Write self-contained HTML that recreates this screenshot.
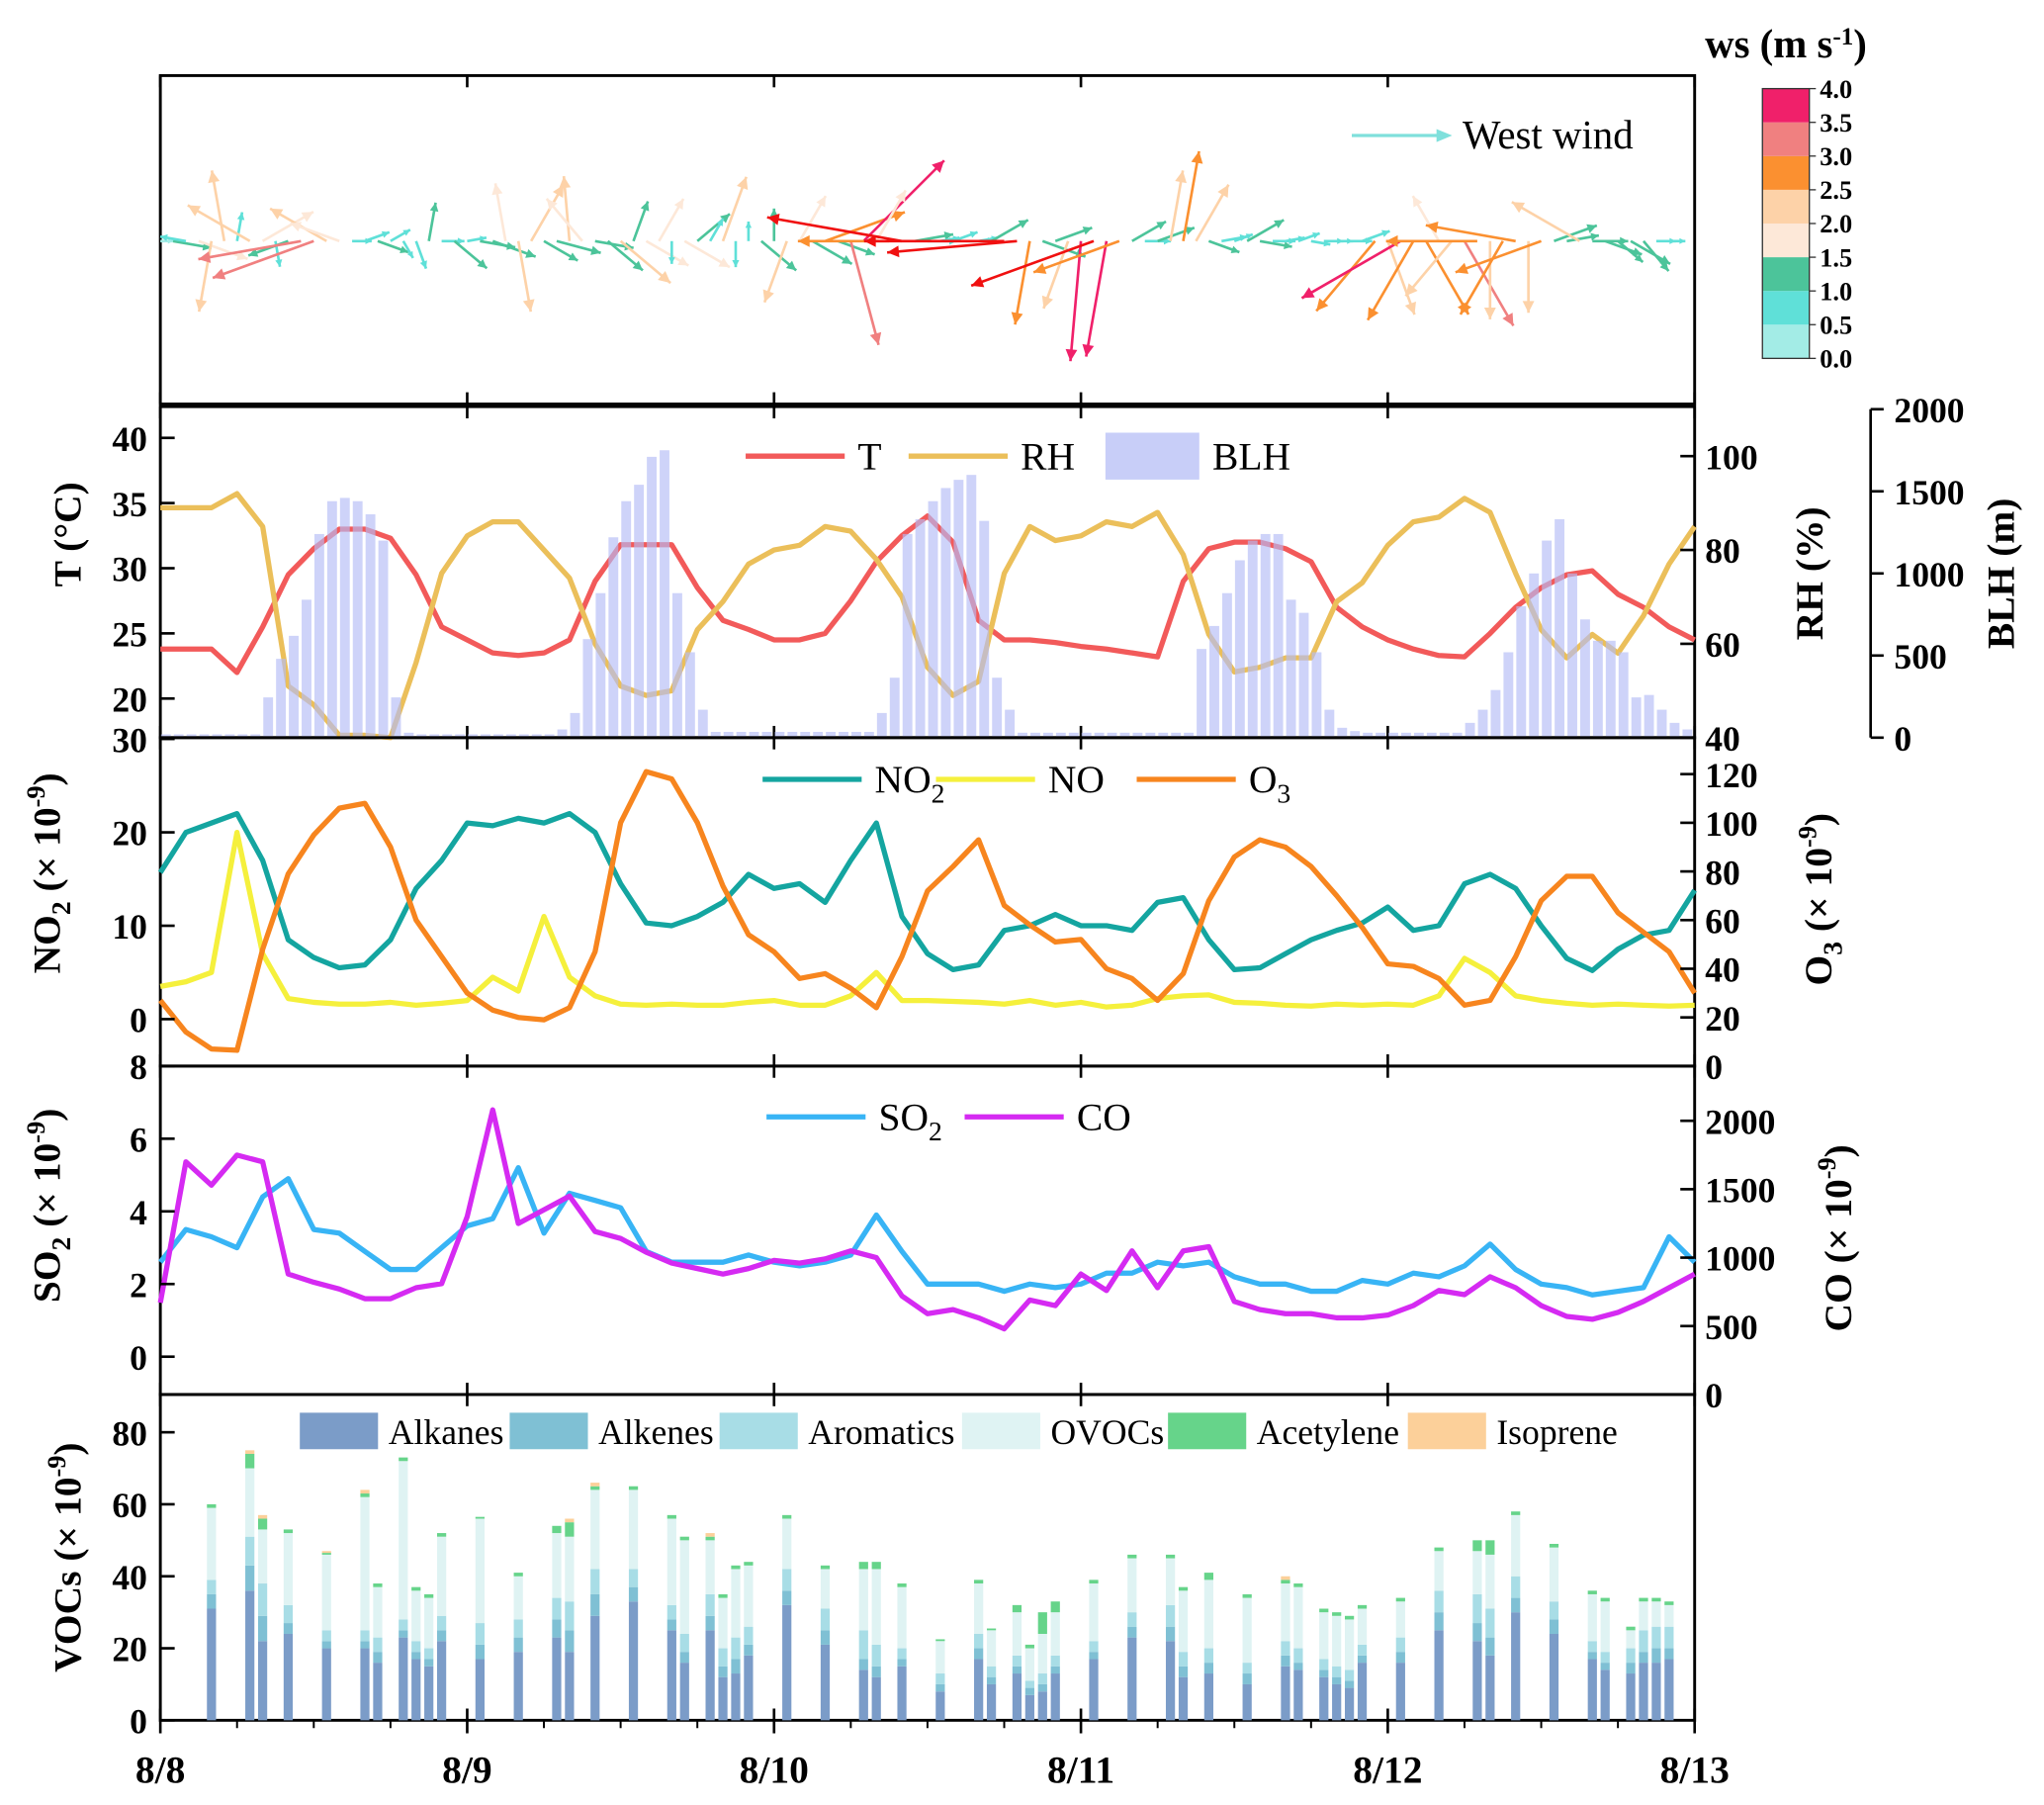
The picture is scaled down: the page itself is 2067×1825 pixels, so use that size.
<!DOCTYPE html>
<html><head><meta charset="utf-8">
<style>
html,body{margin:0;padding:0;background:#fff;}
svg{display:block;font-family:"Liberation Serif",serif;}
.t{font-weight:bold;font-size:27px;}
.tt{font-weight:bold;font-size:30px;}
</style></head>
<body>
<svg id="chart" width="2067" height="1825" viewBox="0 0 1568 1385" preserveAspectRatio="none" xmlns="http://www.w3.org/2000/svg">
<g id="g"></g>
</svg>
<script>
// ---------- data ----------
const hours2 = Array.from({length:61},(_,i)=>i*2);
const tempT = [23.8,23.8,23.8,22,25.5,29.5,31.5,33,33,32.3,29.5,25.5,24.5,23.5,23.3,23.5,24.5,29,31.8,31.8,31.8,28.5,26,25.3,24.5,24.5,25,27.5,30.5,32.5,34,32,26,24.5,24.5,24.3,24,23.8,23.5,23.2,29,31.5,32,32,31.5,30.5,27,25.5,24.5,23.8,23.3,23.2,25,27,28.5,29.5,29.8,28,27,25.5,24.5];
const rhRH = [89,89,89,92,85,51,47,40.5,40.5,40,56,75,83,86,86,80,74,60,51,49,50,63,69,77,80,81,85,84,78,70,55,49,52,75,85,82,83,86,85,88,79,62,54,55,57,57,69,73,81,86,87,91,88,75,63,57,62,58,66,77,85];
const blhBLH = [20,20,20,20,20,20,20,20,
 245,480,620,840,1240,1440,1460,1440,1360,1200,245,30,
 20,20,20,20,20,20,20,20,20,20,20,
 50,150,600,880,1220,1440,1540,1710,1750,880,520,170,
 35,35,35,35,35,35,35,35,35,35,35,35,35,
 150,365,1240,1330,1440,1520,1570,1600,1320,365,170,
 30,30,30,30,30,30,30,30,30,30,30,30,30,30,
 540,680,880,1080,1200,1240,1240,840,760,520,170,60,40,
 30,30,30,30,30,30,30,30,
 90,170,290,520,800,1000,1200,1330,1000,720,590,590,520,245,260,170,90,50];
const no2NO2 = [15.7,20,21,22,17,8.5,6.6,5.5,5.8,8.5,14,17,21,20.7,21.5,21,22,20,14.5,10.3,10,11,12.5,15.5,14,14.5,12.5,17,21,11,7,5.3,5.8,9.5,10,11.2,10,10,9.5,12.5,13,8.5,5.3,5.5,7,8.5,9.5,10.3,12,9.5,10,14.5,15.5,14,10,6.5,5.2,7.5,9,9.5,13.8];
const noNO = [3.5,4,5,20,7,2.2,1.8,1.6,1.6,1.8,1.5,1.7,2,4.5,3,11,4.5,2.5,1.6,1.5,1.6,1.5,1.5,1.8,2,1.5,1.5,2.5,5,2,2,1.9,1.8,1.6,2,1.5,1.8,1.3,1.5,2.2,2.5,2.6,1.8,1.7,1.5,1.4,1.6,1.5,1.6,1.5,2.5,6.5,5,2.5,2,1.7,1.5,1.6,1.5,1.4,1.5];
const o3O3 = [27,14,7,6.5,48,79,95,106,108,90,60,45,30,23,20,19,24,47,100,121,118,100,74,54,47,36,38,32,24,45,72,82,93,66,58,51,52,40,36,27,38,68,86,93,90,82,70,57,42,41,36,25,27,45,68,78,78,63,55,47,30];
const so2SO2 = [2.6,3.5,3.3,3,4.4,4.9,3.5,3.4,2.9,2.4,2.4,3,3.6,3.8,5.2,3.4,4.5,4.3,4.1,2.9,2.6,2.6,2.6,2.8,2.6,2.5,2.6,2.8,3.9,2.9,2.0,2.0,2.0,1.8,2.0,1.9,2.0,2.3,2.3,2.6,2.5,2.6,2.2,2.0,2.0,1.8,1.8,2.1,2.0,2.3,2.2,2.5,3.1,2.4,2.0,1.9,1.7,1.8,1.9,3.3,2.6];
const coCO = [670,1700,1530,1750,1700,880,820,770,700,700,780,810,1300,2080,1250,1350,1450,1190,1140,1040,960,920,880,920,980,960,990,1050,1000,720,590,620,560,480,690,650,880,760,1050,780,1050,1080,680,620,590,590,560,560,580,650,760,730,860,780,650,570,550,600,680,780,880];
const vocHours = [4,7,8,10,13,16,17,19,20,21,22,25,28,31,32,34,37,40,41,43,44,45,46,49,52,55,56,58,61,64,65,67,68,69,70,73,76,79,80,82,85,88,89,91,92,93,94,97,100,103,104,106,109,112,113,115,116,117,118];
const vocAlkanes = [31,36,22,24,20,20,16,23,17,15,22,17,19,23,19,29,33,25,16,25,12,13,18,32,21,14,12,15,8,17,10,13,7,8,13,17,23,22,12,13,10,15,14,12,10,9,16,16,25,22,18,30,24,17,14,13,16,16,17];
const vocAlkenes = [4,7,7,3,2,2,3,2,2,2,3,4,4,5,6,6,4,3,3,4,3,4,3,4,4,3,3,2,2,3,2,2,2,2,2,2,3,4,3,3,3,3,2,2,2,2,2,3,5,5,5,4,4,2,2,3,3,4,3];
const vocAromatics = [4,8,9,5,3,3,4,3,3,3,4,6,5,6,8,7,5,4,5,6,5,6,5,6,6,8,6,3,3,4,3,3,2,3,3,3,4,6,4,4,3,4,4,3,3,3,3,4,6,8,8,6,5,3,3,4,6,6,6];
const vocOVOCs = [20,19,15,20,21,37,14,44,14,14,22,29,12,18,18,22,22,24,26,15,14,19,17,14,11,17,21,17,9,14,10,12,9,11,12,16,15,13,17,19,18,16,17,13,14,14,10,10,11,12,15,17,15,13,14,5,8,7,6];
const vocAcetylene = [1,4,3,1,0.5,1,1,1,1,1,1,0.5,1,2,4,1,1,1,1,1,1,1,1,1,1,2,2,1,0.5,1,0.5,2,1,6,3,1,1,1,1,2,1,1,1,1,1,1,1,1,1,3,4,1,1,1,1,1,1,1,1];
const vocIsoprene = [0,1,1,0,0.5,1,0,0,0,0,0,0,0,0,1,1,0,0,0,1,0,0,0,0,0,0,0,0,0,0,0,0,0,0,0,0,0,0,0,0,0,1,0,0,0,0,0,0,0,0,0,0,0,0,0,0,0,0,0];
const windHour = Array.from({length:119},(_,i)=>i);
const windSpeed = [0.4,1.2,0.8,1.6,2.2,2.2,0.9,2.2,1.8,0.8,1.3,3.2,3.3,2.0,1.6,0.6,0.8,1.0,0.7,0.6,0.9,1.2,0.7,1.3,0.6,1.1,1.4,1.8,2.2,2.0,1.2,1.4,2.0,1.7,1.2,1.4,2.0,1.3,1.5,1.5,0.7,1.6,1.3,0.8,2.1,0.8,0.6,1.4,1.0,2.0,1.6,1.4,2.6,1.2,3.3,3.5,1.8,2.8,4.2,1.2,0.9,0.6,0.8,0.9,0.6,1.3,4.3,4.0,2.6,1.4,1.2,2.2,3.7,4.0,3.6,2.8,1.2,0.8,1.2,2.2,2.8,2.0,1.0,0.8,0.6,1.3,1.0,0.7,0.6,0.7,0.6,0.6,0.5,0.7,0.9,2.8,2.4,3.5,2.8,2.6,1.6,2.2,3.0,2.8,2.4,2.6,2.8,2.2,2.8,1.4,1.0,2.4,1.1,1.2,1.0,1.4,1.2,0.6,0.5];
const windDir = [0,-10,170,-20,-100,100,80,150,30,-80,200,190,200,150,160,0,20,-20,30,-60,-70,80,0,-40,10,-10,-20,100,-80,60,-30,-15,95,130,-10,-40,-40,70,-30,60,-90,-30,40,60,70,-90,90,-40,90,-110,60,-30,20,-20,-75,45,60,180,170,10,0,10,20,0,10,30,180,185,-100,-20,20,-110,-95,200,-100,200,30,0,20,80,80,60,-20,10,20,30,-10,0,10,20,-10,0,0,0,20,-130,-70,210,-120,-60,120,-130,-60,180,-90,-120,170,-90,200,20,10,150,0,-20,-40,-30,-50,0,0];
const tTicks=[20,25,30,35,40], rhTicks=[40,60,80,100], blhTicks=[0,500,1000,1500,2000];
const no2Ticks=[0,10,20,30], o3Ticks=[0,20,40,60,80,100,120];
const so2Ticks=[0,2,4,6,8], coTicks=[0,500,1000,1500,2000];
const vocTicks=[0,20,40,60,80], dayLabels=['8/8','8/9','8/10','8/11','8/12','8/13'];
const wsLabels=['0.0','0.5','1.0','1.5','2.0','2.5','3.0','3.5','4.0'];

// ---------- helpers ----------
const NS='http://www.w3.org/2000/svg', G=document.getElementById('g');
function mk(tag,attrs,parent){const e=document.createElementNS(NS,tag);for(const k in attrs)e.setAttribute(k,attrs[k]);(parent||G).appendChild(e);return e;}
function txt(x,y,s,cls,anchor,parent,rot){const e=mk('text',{x:x,y:y,'class':cls,'text-anchor':anchor||'middle'},parent);if(rot)e.setAttribute('transform','rotate(-90 '+x+' '+y+')');e.innerHTML=s;return e;}
const X0=123,X1=1300;
const xH=h=>X0+h*(X1-X0)/120;
function lin(d0,d1,p0,p1){return v=>p0+(v-d0)*(p1-p0)/(d1-d0);}
const yT=lin(20,40,536,336), yRH=lin(40,100,566,350), yBLH=lin(0,2000,566,314);
const yNO2=lin(0,30,782,567), yO3=lin(0,120,818,594);
const ySO2=lin(0,8,1041,818), yCO=lin(0,2000,1070,860);
const yV=lin(0,80,1320,1099);

function frame(y0,y1,name){
  const r=mk('rect',{x:X0,y:y0,width:X1-X0,height:y1-y0,fill:'none',stroke:'#000','stroke-width':2.2});
  
  for(let d=0;d<=5;d++){const x=xH(d*24);
    mk('line',{x1:x,x2:x,y1:y0,y2:y0+9,stroke:'#000','stroke-width':2});
    mk('line',{x1:x,x2:x,y1:y1,y2:y1-9,stroke:'#000','stroke-width':2});}
}
function leftAxis(ticks,f,name){const g=mk('g',{});
  ticks.forEach(v=>{const y=f(v);mk('line',{x1:X0,x2:X0+11,y1:y,y2:y,stroke:'#000','stroke-width':2},g);txt(X0-10,y+10,v,'t','end',g);});}
function rightAxis(ticks,f,name,xa){const g=mk('g',{});
  const ax=xa||X1; ticks.forEach(v=>{const y=f(v);
    if(xa){mk('line',{x1:ax,x2:ax+10,y1:y,y2:y,stroke:'#000','stroke-width':2},g);}
    else mk('line',{x1:ax,x2:ax-11,y1:y,y2:y,stroke:'#000','stroke-width':2},g);
    txt(ax+(xa?18:8),y+10,v,'t','start',g);});}
function line(vals,f,color,name,w){const pts=vals.map((v,i)=>xH(hours2[i]).toFixed(1)+','+f(v).toFixed(1)).join(' ');
  const p=mk('polyline',{points:pts,fill:'none',stroke:color,'stroke-width':w||4,'stroke-linejoin':'round'});
  return p;}
function legLine(x,y,color,label,name){const g=mk('g',{});
  mk('line',{x1:x,x2:x+76,y1:y,y2:y,stroke:color,'stroke-width':4},g);const t=txt(x+86,y+10,label,'','start',g);t.setAttribute('style','font-size:30px');return g;}

// ---------- panel 1: wind ----------
frame(58,310,'wind-panel');
const wsColors=['#a3ece6','#5fe0d8','#4cc49a','#fde8d8','#fdd2a8','#fb9030','#f08080','#f0206a'];
function wcol(s){if(s>=4)return '#f01010';return wsColors[Math.min(7,Math.floor(s/0.5))];}
const arrG=mk('g',{});
windHour.forEach((h,i)=>{const s=windSpeed[i],a=windDir[i]*Math.PI/180,L=s*25;
  const x1=xH(h),y1=185,x2=x1+L*Math.cos(a),y2=y1-L*Math.sin(a),c=wcol(s);
  const hx=Math.cos(a),hy=-Math.sin(a),hs=Math.min(9,3+L*0.12);
  const g=mk('g',{},arrG);
  
  
  mk('line',{x1:x1,y1:y1,x2:x2,y2:y2,stroke:c,'stroke-width':2},g);
  mk('polygon',{points:`${x2},${y2} ${x2-hs*hx-hs*0.5*hy},${y2-hs*hy+hs*0.5*hx} ${x2-hs*hx+hs*0.5*hy},${y2-hs*hy-hs*0.5*hx}`,fill:c},g);
});
{const g=mk('g',{});
 mk('line',{x1:1037,x2:1104,y1:104,y2:104,stroke:'#7fe0dc','stroke-width':2.5},g);
 mk('polygon',{points:'1114,104 1102,99 1102,109',fill:'#7fe0dc'},g);
 const t=txt(1122,114,'West wind','','start',g);t.setAttribute('style','font-size:31px');}
{const g=mk('g',{});
 const segH=(275-68)/8;
 wsColors.forEach((c,i)=>{mk('rect',{x:1352,y:275-(i+1)*segH,width:36,height:segH,fill:c},g);});
 mk('rect',{x:1352,y:68,width:36,height:207,fill:'none',stroke:'#333','stroke-width':1},g);
 wsLabels.forEach((l,i)=>{const y=275-i*segH;mk('line',{x1:1388,x2:1393,y1:y,y2:y,stroke:'#333'},g);const t=txt(1396,y+7,l,'','start',g);t.setAttribute('style','font-size:20px;font-weight:bold');});
 const t=txt(1370,44,'ws (m s<tspan dy="-10" font-size="19">-1</tspan><tspan dy="10">)</tspan>','','middle',g);t.setAttribute('style','font-size:31px;font-weight:bold');}

// ---------- panel 2: T, RH, BLH ----------
frame(312,566,'meteorology-panel');
const blhG=mk('g',{});
line(tempT,yT,'#f25a5a','temperature-line');
line(rhRH,yRH,'#ebbf5a','rh-line');
blhBLH.forEach((v,i)=>{const x=xH(i)+0.5,y=yBLH(v);
  const r=mk('rect',{x:x,y:y,width:7.5,height:566-y,fill:'#b4bcf6','fill-opacity':0.65},blhG);
  
  });
G.appendChild(blhG);
leftAxis(tTicks,yT,'t-axis');
rightAxis(rhTicks,yRH,'rh-axis');
mk('line',{x1:1435,x2:1435,y1:314,y2:566,stroke:'#000','stroke-width':2});
rightAxis(blhTicks,yBLH,'blh-axis',1435);
legLine(572,350,'#f25a5a','T','legend-t');
legLine(697,350,'#ebbf5a','RH','legend-rh');
{const g=mk('g',{});
 mk('rect',{x:848,y:332,width:72,height:36,fill:'#c8cef8'},g);const t=txt(930,360,'BLH','','start',g);t.setAttribute('style','font-size:30px');}
txt(62,410,'T (°C)','tt','middle',null,true);
txt(1398,440,'RH (%)','tt','middle',null,true);
txt(1545,440,'BLH (m)','tt','middle',null,true);

// ---------- panel 3: NO2, NO, O3 ----------
frame(566,818,'nitrogen-ozone-panel');
line(no2NO2,yNO2,'#14a5a0','no2-line');
line(noNO,yNO2,'#f5f03c','no-line');
line(o3O3,yO3,'#f7851e','o3-line');
leftAxis(no2Ticks,yNO2,'no2-axis');
rightAxis(o3Ticks,yO3,'o3-axis');
legLine(585,598,'#14a5a0','NO<tspan dy="8" font-size="21">2</tspan>','legend-no2');
legLine(718,598,'#f5f03c','NO','legend-no');
legLine(872,598,'#f7851e','O<tspan dy="8" font-size="21">3</tspan>','legend-o3');
txt(46,670,'NO<tspan dy="8" font-size="21">2</tspan><tspan dy="-8"> (× 10</tspan><tspan dy="-12" font-size="20">-9</tspan><tspan dy="12">)</tspan>','tt','middle',null,true);
txt(1405,690,'O<tspan dy="8" font-size="21">3</tspan><tspan dy="-8"> (× 10</tspan><tspan dy="-12" font-size="20">-9</tspan><tspan dy="12">)</tspan>','tt','middle',null,true);

// ---------- panel 4: SO2, CO ----------
frame(818,1070,'so2-co-panel');
line(so2SO2,ySO2,'#38b4f5','so2-line');
line(coCO,yCO,'#d52af2','co-line');
leftAxis(so2Ticks,ySO2,'so2-axis');
rightAxis(coTicks,yCO,'co-axis');
legLine(588,857,'#38b4f5','SO<tspan dy="8" font-size="21">2</tspan>','legend-so2');
legLine(740,857,'#d52af2','CO','legend-co');
txt(46,925,'SO<tspan dy="8" font-size="21">2</tspan><tspan dy="-8"> (× 10</tspan><tspan dy="-12" font-size="20">-9</tspan><tspan dy="12">)</tspan>','tt','middle',null,true);
txt(1420,950,'CO (× 10<tspan dy="-12" font-size="20">-9</tspan><tspan dy="12">)</tspan>','tt','middle',null,true);

// ---------- panel 5: VOCs ----------
frame(1070,1320,'vocs-panel');
const vocCols=['#7b9cc8','#7fc0d4','#a8dde6','#dff3f3','#66d48a','#fcd09a'];
const vocSeries=[vocAlkanes,vocAlkenes,vocAromatics,vocOVOCs,vocAcetylene,vocIsoprene];
const vocNames=['Alkanes','Alkenes','Aromatics','OVOCs','Acetylene','Isoprene'];
const vG=mk('g',{});
vocHours.forEach((h,i)=>{let acc=0;const x=xH(h)-3.5;
  vocSeries.forEach((s,k)=>{const v=s[i];if(!v)return;const y0=yV(acc),y1=yV(acc+v);acc+=v;
    const r=mk('rect',{x:x,y:y1,width:7,height:y0-y1,fill:vocCols[k]},vG);
    
    });});
leftAxis(vocTicks,yV,'voc-axis');
const legX=[230,391,552,738,896,1080];
vocNames.forEach((n,k)=>{const g=mk('g',{});
  
  
  mk('rect',{x:legX[k],y:1084,width:60,height:28,fill:vocCols[k]},g);
  const t=txt(legX[k]+68,1108,n,'','start',g);t.setAttribute('style','font-size:27px');});
txt(62,1195,'VOCs (× 10<tspan dy="-12" font-size="20">-9</tspan><tspan dy="12">)</tspan>','tt','middle',null,true);

// x axis
const xg=mk('g',{});
dayLabels.forEach((l,d)=>{const x=xH(d*24);mk('line',{x1:x,x2:x,y1:1320,y2:1330,stroke:'#000','stroke-width':2},xg);txt(x,1368,l,'tt','middle',xg);});
for(let h=6;h<120;h+=6){if(h%24){const x=xH(h);mk('line',{x1:x,x2:x,y1:1320,y2:1326,stroke:'#000','stroke-width':1.5},xg);}}
</script>
</body></html>
